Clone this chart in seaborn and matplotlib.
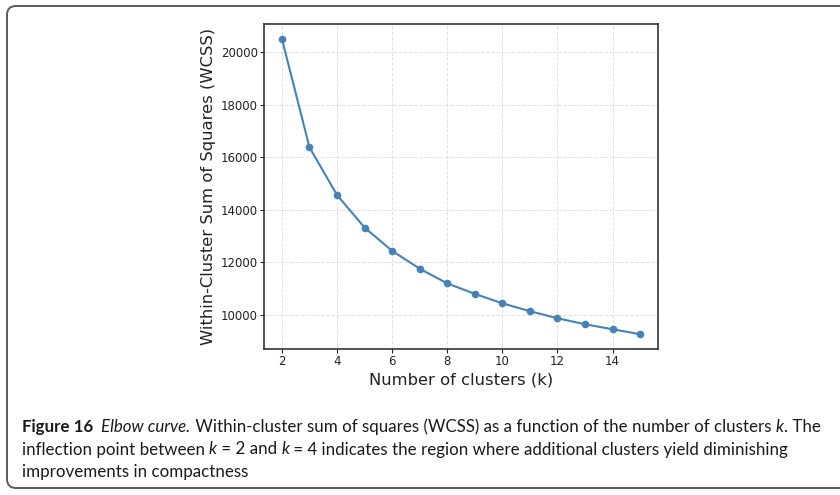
import matplotlib
matplotlib.use("Agg")
import matplotlib.pyplot as plt
import seaborn as sns
import pandas as pd
from matplotlib.patches import FancyBboxPatch
from matplotlib.transforms import IdentityTransform

# ---- data ----
k_values = [2, 3, 4, 5, 6, 7, 8, 9, 10, 11, 12, 13, 14, 15]
wcss = [20520, 16380, 14560, 13320, 12430, 11750, 11190, 10790,
        10430, 10130, 9860, 9630, 9440, 9250]
x_ticks = [2, 4, 6, 8, 10, 12, 14]
y_ticks = [10000, 12000, 14000, 16000, 18000, 20000]
x_label = "Number of clusters (k)"
y_label = "Within-Cluster Sum of Squares (WCSS)"

caption_lines = [
    [("Figure 16", "bold"), ("  ", "normal"), ("Elbow curve.", "italic"),
     (" Within-cluster sum of squares (WCSS) as a function of the number of clusters ", "normal"),
     ("k", "italic"), (". The", "normal")],
    [("inflection point between ", "normal"), ("k", "italic"), (" = 2 and ", "normal"),
     ("k", "italic"), (" = 4 indicates the region where additional clusters yield diminishing", "normal")],
    [("improvements in compactness", "normal")],
]

df = pd.DataFrame({"k": k_values, "wcss": wcss})

sns.set_style("white")
plt.rcParams["font.family"] = ["DejaVu Sans"]

W, H = 840, 495
fig = plt.figure(figsize=(W / 100, H / 100), dpi=100)
fig.patch.set_facecolor("white")

# outer rounded frame
box = FancyBboxPatch((7, 7), 843, 482, boxstyle="round,pad=0,rounding_size=9",
                     transform=IdentityTransform(), facecolor="none",
                     edgecolor="#5a5a5a", linewidth=1.4)
fig.add_artist(box)

ax = fig.add_axes([264 / W, 1 - 349 / H, (658 - 264) / W, (349 - 24) / H])
sns.lineplot(data=df, x="k", y="wcss", marker="o", color="#4682B4",
             linewidth=1.5, markersize=5.5, markeredgewidth=0, ax=ax)
ax.set_xticks(x_ticks)
ax.set_yticks(y_ticks)
ax.grid(True, linestyle="--", color="#cccccc", linewidth=0.7, alpha=0.6)
ax.tick_params(axis="both", labelsize=8.5, colors="#222222", length=3, width=0.8,
               direction="out", left=True, bottom=True, pad=1.3)
for s in ax.spines.values():
    s.set_color("#333333")
    s.set_linewidth(1.2)
ax.set_xlabel(x_label, fontsize=11.8, color="#222222", labelpad=3)
ax.set_ylabel(y_label, fontsize=11.8, color="#222222", labelpad=3.5)

# caption with mixed styles
cap_family = ["Lato", "DejaVu Sans"]
renderer = fig.canvas.get_renderer()


def piece_width(text, style, size):
    weight = "bold" if style == "bold" else "normal"
    fstyle = "italic" if style == "italic" else "normal"
    t1 = fig.text(0, 0, "x" + text + "x", fontsize=size, family=cap_family,
                  fontweight=weight, fontstyle=fstyle)
    t2 = fig.text(0, 0, "xx", fontsize=size, family=cap_family,
                  fontweight=weight, fontstyle=fstyle)
    w = t1.get_window_extent(renderer).width - t2.get_window_extent(renderer).width
    t1.remove()
    t2.remove()
    return w


# fit first line to the reference width (21.5 px .. 817 px)
base = 10.0
w0 = sum(piece_width(t, s, base) for t, s in caption_lines[0])
cap_size = base * (817 - 21.5) / w0

baselines = [432, 454.5, 477]
for line, yb in zip(caption_lines, baselines):
    x = 21.5
    for text, style in line:
        weight = "bold" if style == "bold" else "normal"
        fstyle = "italic" if style == "italic" else "normal"
        fig.text(x / W, 1 - yb / H, text, fontsize=cap_size, family=cap_family,
                 fontweight=weight, fontstyle=fstyle, color="#1a1a1a",
                 va="baseline", ha="left")
        x += piece_width(text, style, cap_size)

fig.savefig("out.png", dpi=100, facecolor="white")
